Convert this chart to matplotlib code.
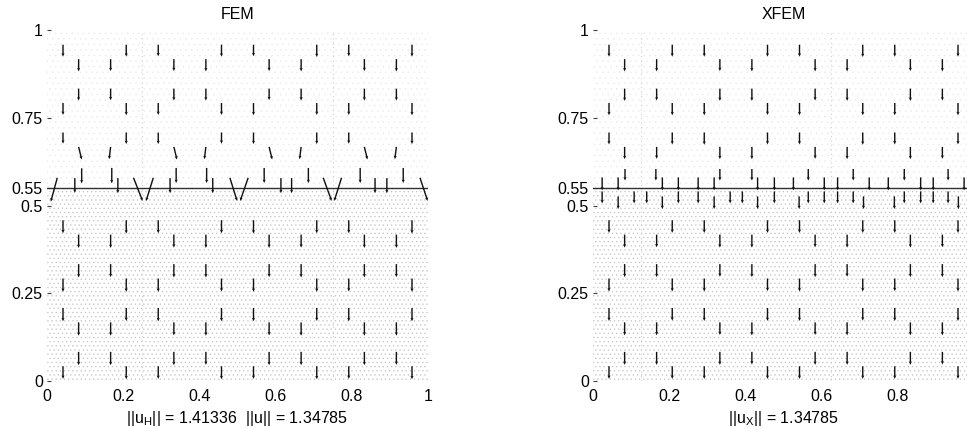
import matplotlib
matplotlib.use('Agg')
import matplotlib.pyplot as plt

plt.rcParams['font.family'] = ['Liberation Sans', 'DejaVu Sans']
plt.rcParams['mathtext.fontset'] = 'custom'
plt.rcParams['mathtext.rm'] = 'Liberation Sans'
plt.rcParams['mathtext.it'] = 'Liberation Sans'
plt.rcParams['hatch.linewidth'] = 0.4

# ---------------- data ----------------
titles = ['FEM', 'XFEM']
norm_labels = [r'||u$_\mathrm{H}$|| = 1.41336  ||u|| = 1.34785',
               r'||u$_\mathrm{X}$|| = 1.34785']
interface_y = 0.55
ytick_vals = [0, 0.25, 0.5, 0.55, 0.75, 1]
ytick_labels = ['0', '0.25', '0.5', '0.55', '0.75', '1']
xtick_vals = [[0, 0.2, 0.4, 0.6, 0.8, 1], [0, 0.2, 0.4, 0.6, 0.8]]
xtick_labels = [['0', '0.2', '0.4', '0.6', '0.8', '1'], ['0', '0.2', '0.4', '0.6', '0.8']]

# triangle centroid columns / levels of the 8x8 criss-cross mesh
centroid_x = [0.042, 0.083, 0.167, 0.208, 0.292, 0.333, 0.417, 0.458,
              0.542, 0.583, 0.667, 0.708, 0.792, 0.833, 0.917, 0.958]
centroid_y = [0.042, 0.083, 0.167, 0.208, 0.292, 0.333, 0.417, 0.458,
              0.542, 0.583, 0.667, 0.708, 0.792, 0.833, 0.917, 0.958]

# vertical component of the arrows on the regular centroid levels (8 per level)
fem_v = {
    15: [-0.034, -0.034, -0.033, -0.034, -0.033, -0.035, -0.033, -0.034],
    14: [-0.035, -0.034, -0.034, -0.035, -0.034, -0.035, -0.034, -0.035],
    13: [-0.034, -0.033, -0.034, -0.034, -0.033, -0.034, -0.034, -0.034],
    12: [-0.034, -0.035, -0.034, -0.034, -0.035, -0.034, -0.034, -0.035],
    11: [-0.032, -0.033, -0.033, -0.032, -0.033, -0.033, -0.032, -0.033],
    10: [-0.036, -0.035, -0.036, -0.035, -0.036, -0.035, -0.036, -0.035],
    7:  [-0.037, -0.038, -0.037, -0.037, -0.038, -0.037, -0.037, -0.038],
    6:  [-0.038, -0.038, -0.037, -0.038, -0.038, -0.037, -0.038, -0.038],
    5:  [-0.038, -0.037, -0.038, -0.038, -0.037, -0.038, -0.038, -0.037],
    4:  [-0.038, -0.038, -0.038, -0.037, -0.038, -0.038, -0.037, -0.038],
    3:  [-0.038, -0.037, -0.038, -0.038, -0.038, -0.037, -0.038, -0.038],
    2:  [-0.038, -0.038, -0.037, -0.038, -0.037, -0.038, -0.038, -0.038],
    1:  [-0.038, -0.038, -0.038, -0.037, -0.038, -0.038, -0.038, -0.037],
    0:  [-0.036, -0.037, -0.036, -0.037, -0.036, -0.037, -0.036, -0.037],
}
fem_u10 = [0.008, -0.004, 0.008, -0.004, 0.008, -0.004, 0.008, -0.004]

xfem_v = {
    15: [-0.034, -0.034, -0.034, -0.034, -0.034, -0.035, -0.034, -0.034],
    14: [-0.035, -0.035, -0.034, -0.035, -0.035, -0.035, -0.034, -0.035],
    13: [-0.035, -0.034, -0.035, -0.035, -0.034, -0.035, -0.035, -0.034],
    12: [-0.035, -0.035, -0.035, -0.034, -0.035, -0.035, -0.035, -0.035],
    11: [-0.034, -0.034, -0.035, -0.034, -0.034, -0.035, -0.034, -0.034],
    10: [-0.035, -0.034, -0.035, -0.035, -0.034, -0.035, -0.035, -0.034],
    7:  [-0.036, -0.036, -0.036, -0.036, -0.036, -0.036, -0.036, -0.036],
    6:  [-0.037, -0.036, -0.037, -0.037, -0.036, -0.037, -0.037, -0.036],
    5:  [-0.037, -0.037, -0.036, -0.037, -0.037, -0.036, -0.037, -0.037],
    4:  [-0.037, -0.037, -0.037, -0.036, -0.037, -0.037, -0.036, -0.037],
    3:  [-0.037, -0.036, -0.037, -0.037, -0.037, -0.036, -0.037, -0.037],
    2:  [-0.037, -0.037, -0.036, -0.037, -0.036, -0.037, -0.037, -0.037],
    1:  [-0.037, -0.037, -0.037, -0.036, -0.037, -0.037, -0.037, -0.036],
    0:  [-0.036, -0.036, -0.036, -0.036, -0.036, -0.036, -0.036, -0.036],
}

# arrows in the element row cut by the interface (tail x, tail y, u, v)
fem_cut_x = [0.027, 0.073, 0.091, 0.170, 0.186, 0.227, 0.279, 0.323, 0.339, 0.419, 0.435, 0.480,
             0.528, 0.570, 0.614, 0.642, 0.686, 0.725, 0.773, 0.822, 0.861, 0.892, 0.935, 0.979]
fem_cut_y = [0.579, 0.578, 0.606, 0.607, 0.578, 0.579, 0.579, 0.578, 0.607, 0.607, 0.578, 0.579,
             0.579, 0.607, 0.578, 0.578, 0.607, 0.579, 0.579, 0.607, 0.578, 0.578, 0.607, 0.579]
fem_cut_u = [-0.017, 0.0, 0.0, 0.0, 0.0, 0.024, -0.019, 0.0, 0.0, 0.0, 0.0, 0.019,
             -0.021, 0.0, 0.0, 0.0, 0.0, 0.022, -0.019, 0.0, 0.0, 0.0, 0.0, 0.020]
fem_cut_v = [-0.068, -0.042, -0.043, -0.044, -0.043, -0.066, -0.066, -0.043, -0.043, -0.043, -0.043, -0.066,
             -0.066, -0.043, -0.043, -0.043, -0.043, -0.066, -0.066, -0.043, -0.043, -0.043, -0.043, -0.066]

xfem_cut_x = [0.024, 0.066, 0.182, 0.224, 0.276, 0.318, 0.432, 0.476,
              0.526, 0.607, 0.642, 0.725, 0.775, 0.860, 0.893, 0.974,
              0.084, 0.165, 0.333, 0.417, 0.565, 0.683, 0.817, 0.932,
              0.024, 0.108, 0.141, 0.224, 0.276, 0.360, 0.392, 0.476,
              0.565, 0.607, 0.642, 0.683, 0.817, 0.860, 0.893, 0.932,
              0.066, 0.182, 0.318, 0.432, 0.541, 0.710, 0.791, 0.959]
xfem_cut_y = [0.580, 0.580, 0.580, 0.580, 0.580, 0.580, 0.580, 0.580,
              0.580, 0.580, 0.580, 0.580, 0.580, 0.580, 0.580, 0.580,
              0.604, 0.604, 0.604, 0.604, 0.604, 0.604, 0.604, 0.604,
              0.540, 0.540, 0.540, 0.540, 0.540, 0.540, 0.540, 0.540,
              0.540, 0.540, 0.540, 0.540, 0.540, 0.540, 0.540, 0.540,
              0.526, 0.526, 0.526, 0.526, 0.526, 0.526, 0.526, 0.526]
xfem_cut_v = [-0.037, -0.037, -0.037, -0.037, -0.037, -0.037, -0.037, -0.037,
              -0.037, -0.037, -0.037, -0.037, -0.037, -0.037, -0.037, -0.037,
              -0.033, -0.033, -0.033, -0.033, -0.033, -0.033, -0.033, -0.033,
              -0.034, -0.034, -0.034, -0.034, -0.034, -0.034, -0.034, -0.034,
              -0.034, -0.034, -0.034, -0.034, -0.034, -0.034, -0.034, -0.034,
              -0.036, -0.036, -0.036, -0.036, -0.036, -0.036, -0.036, -0.036]

scan_lines = [[0.25, 0.75], [0.125, 0.625]]

# ---------------- drawing ----------------
fig = plt.figure(figsize=(9.67, 4.29), dpi=100)
ax_left = [47 / 967, 593 / 967]
axes = [fig.add_axes([l, 1 - 381 / 429, 381 / 967, 351 / 429]) for l in ax_left]

qkw = dict(angles='xy', scale_units='xy', scale=1, pivot='tail', color='#111111',
           units='dots', width=1.4, headwidth=2.2, headlength=2.4, headaxislength=2.2,
           minlength=0.1, zorder=4)


def regular_arrows(vdict, u10=None):
    xs, ys, us, vs = [], [], [], []
    for lev, vals in vdict.items():
        j, sub = divmod(lev, 2)
        for i in range(8):
            parity = (i + j) % 2
            s = sub if parity == 0 else 1 - sub
            xs.append(centroid_x[2 * i + s])
            ys.append(centroid_y[lev])
            us.append(u10[i] if (u10 is not None and lev == 10) else 0.0)
            vs.append(vals[i])
    return xs, ys, us, vs


panels = [
    (fem_v, fem_u10, fem_cut_x, fem_cut_y, fem_cut_u, fem_cut_v),
    (xfem_v, None, xfem_cut_x, xfem_cut_y, [0.0] * len(xfem_cut_x), xfem_cut_v),
]

for k, ax in enumerate(axes):
    vdict, u10, cx, cy, cu, cv = panels[k]
    ax.set_xlim(0, 1)
    ax.set_ylim(0, 1)
    for sp in ax.spines.values():
        sp.set_visible(False)
    # stippled lower region and sparse dots above
    ax.fill_between([0, 1], 0, interface_y, facecolor='none', edgecolor='#c4c4c4',
                    linewidth=0, hatch='....', zorder=1)
    ax.fill_between([0, 1], interface_y, 1, facecolor='none', edgecolor='#ececec',
                    linewidth=0, hatch='...', zorder=1)
    for xv in scan_lines[k]:
        ax.axvline(xv, color='#cfcfcf', lw=0.8, ls=(0, (1, 3)), zorder=1)
    ax.axhline(interface_y, color='#303030', lw=1.0, zorder=3)

    xs, ys, us, vs = regular_arrows(vdict, u10)
    ax.quiver(xs, ys, us, vs, **qkw)
    ax.quiver(cx, cy, cu, cv, **qkw)

    ax.set_yticks(ytick_vals)
    ax.set_yticklabels(ytick_labels)
    ax.set_xticks(xtick_vals[k])
    ax.set_xticklabels(xtick_labels[k])
    ax.tick_params(axis='y', direction='in', length=3, width=0.8, color='#404040',
                   labelsize=11.5, pad=3)
    ax.tick_params(axis='x', direction='in', length=0, labelsize=11.5, pad=6)
    ax.set_title(titles[k], fontsize=11.5, pad=8)
    ax.set_xlabel(norm_labels[k], fontsize=11.5, labelpad=3)

fig.savefig('out.png', dpi=100)
